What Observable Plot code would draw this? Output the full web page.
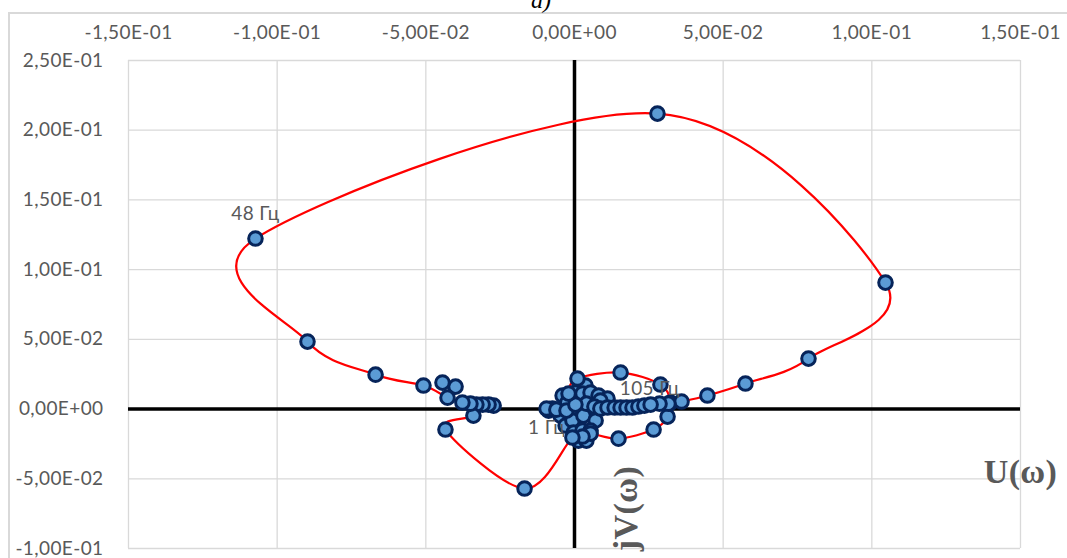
<!DOCTYPE html>
<html>
<head>
<meta charset="utf-8">
<script src="https://cdn.jsdelivr.net/npm/d3@7"></script>
<script src="https://cdn.jsdelivr.net/npm/@observablehq/plot@0.6"></script>
<style>
  body { margin: 0; background: #fff; overflow: hidden; }
  #wrap { position: relative; width: 1067px; height: 558px; overflow: hidden; }
  #border { position: absolute; left: 8px; top: 12px; width: 1200px; height: 700px;
            border-left: 2px solid #d9d9d9; border-top: 2px solid #d9d9d9; }
  #title { position: absolute; left: 531px; top: -12px; font: italic 24px "Liberation Serif", serif;
           color: #000; line-height: 1; }
  #chart { position: absolute; left: 0; top: 0; }
</style>
</head>
<body>
<div id="wrap">
  <div id="border"></div>
  <div id="title">а)</div>
  <div id="chart"></div>
</div>
<script>
// Axis ticks and labels
const xTicks = [-0.15, -0.10, -0.05, 0, 0.05, 0.10, 0.15];
const xTickLabels = ["-1,50E-01", "-1,00E-01", "-5,00E-02", "0,00E+00", "5,00E-02", "1,00E-01", "1,50E-01"];
const yTicks = [-0.10, -0.05, 0, 0.05, 0.10, 0.15, 0.20, 0.25];
const yTickLabels = ["-1,00E-01", "-5,00E-02", "0,00E+00", "5,00E-02", "1,00E-01", "1,50E-01", "2,00E-01", "2,50E-01"];

// Hodograph points joined by the smoothed red line (in order)
const curveU = [-0.0094, -0.0061, -0.0027, 0.0003, -0.0020, 0.0010, 0.0155, 0.0289, 0.0323, 0.0313,
                0.0266, 0.0148, 0.0054, 0.0027, -0.0007, -0.0168, -0.0434, -0.0340, -0.0350, -0.0377,
                -0.0427, -0.0508, -0.0669, -0.0898, -0.1073, 0.0279, 0.1046, 0.0787, 0.0575, 0.0447,
                0.0360, 0.0316, 0.0286, 0.0256];
const curveV = [0.0004, -0.0004, -0.0011, 0.0032, 0.0111, 0.0219, 0.0262, 0.0176, 0.0047, -0.0054,
                -0.0147, -0.0212, -0.0176, -0.0197, -0.0204, -0.0570, -0.0147, -0.0047, 0.0039, 0.0047,
                0.0082, 0.0169, 0.0247, 0.0484, 0.1223, 0.2119, 0.0907, 0.0362, 0.0183, 0.0097,
                0.0054, 0.0039, 0.0039, 0.0032];

// Further measured points (markers in the dense clusters)
const extraU = [-0.0272, -0.0289, -0.0309, -0.0330, -0.0400, -0.0444,
                -0.0087, -0.0074, -0.0054, -0.0040, -0.0047, -0.0030, -0.0024, 0.0003, 0.0037,
                0.0027, 0.0054, 0.0081, 0.0111, 0.0010, -0.0007, 0.0030, 0.0071, 0.0087,
                -0.0003, 0.0027, 0.0054, 0.0013, 0.0040, 0.0040, 0.0067,
                0.0087, 0.0111, 0.0135, 0.0155, 0.0175, 0.0195, 0.0215, 0.0235];
const extraV = [0.0025, 0.0032, 0.0032, 0.0032, 0.0161, 0.0190,
                -0.0011, 0.0004, -0.0011, 0.0097, -0.0047, -0.0118, 0.0047, 0.0118, 0.0169,
                0.0111, 0.0118, 0.0097, 0.0075, -0.0004, -0.0082, -0.0047, -0.0082, 0.0061,
                -0.0169, -0.0154, -0.0154, -0.0226, -0.0226, 0.0039, 0.0018,
                0.0004, 0.0011, 0.0011, 0.0011, 0.0011, 0.0011, 0.0018, 0.0025];

// Frequency labels and the curve point each belongs to
const labelTexts = ["1 Гц", "48 Гц", "105 Гц"];
const labelIndex = [0, 24, 33];

const curve = curveU.map((u, i) => ({u, v: curveV[i]}));
const extra = extraU.map((u, i) => ({u, v: extraV[i]}));
const allPts = extra.concat(curve);

const labelOffsets = [[0, 19], [0, -25], [-1, -16]];
const labelMarks = labelTexts.map((t, k) => Plot.text([t], {
  x: () => curveU[labelIndex[k]], y: () => curveV[labelIndex[k]],
  text: d => d, dx: labelOffsets[k][0], dy: labelOffsets[k][1],
  fill: "#595959", fontSize: 19
}));

const chart = Plot.plot({
  width: 1067, height: 558,
  marginLeft: 128, marginRight: 47, marginTop: 60, marginBottom: 10,
  x: {domain: [-0.15, 0.15]},
  y: {domain: [-0.10, 0.25]},
  style: {fontFamily: "Lato, sans-serif", fontSize: "19px", letterSpacing: "0.4px", color: "#595959", background: "transparent", overflow: "visible"},
  marks: [
    Plot.gridX(xTicks, {stroke: "#d9d9d9", strokeOpacity: 1, strokeWidth: 1.3}),
    Plot.gridY(yTicks, {stroke: "#d9d9d9", strokeOpacity: 1, strokeWidth: 1.3}),
    Plot.axisX(xTicks, {anchor: "top", tickSize: 0, tickPadding: 22, label: null,
      tickFormat: d => xTickLabels[xTicks.indexOf(d)], fill: "#595959"}),
    Plot.axisY(yTicks, {anchor: "left", tickSize: 0, tickPadding: 25, label: null,
      tickFormat: d => yTickLabels[yTicks.indexOf(d)], fill: "#595959"}),
    Plot.ruleX([0], {stroke: "#000", strokeWidth: 3.5}),
    Plot.ruleY([0], {stroke: "#000", strokeWidth: 3.5}),
    Plot.line(curve, {x: "u", y: "v", curve: "cardinal", stroke: "#FF0000", strokeWidth: 2.2}),
    Plot.dot(allPts, {x: "u", y: "v", r: 6.8, fill: "#5B9BD5", stroke: "#06245A", strokeWidth: 3}),
    ...labelMarks,
    Plot.text(["U(ω)"], {frameAnchor: "top-right", textAnchor: "middle", dx: 0, dy: 398, text: d => d,
      fontFamily: "Liberation Serif, serif", fontWeight: "bold", fontSize: 34, letterSpacing: "0px", fill: "#595959"}),
    Plot.text(["jV(ω)"], {frameAnchor: "bottom-left", textAnchor: "middle", dx: 508, dy: -40, rotate: -90, text: d => d,
      fontFamily: "Liberation Serif, serif", fontWeight: "bold", fontSize: 34, letterSpacing: "0px", fill: "#595959"})
  ]
});
document.getElementById("chart").appendChild(chart);
</script>
</body>
</html>
